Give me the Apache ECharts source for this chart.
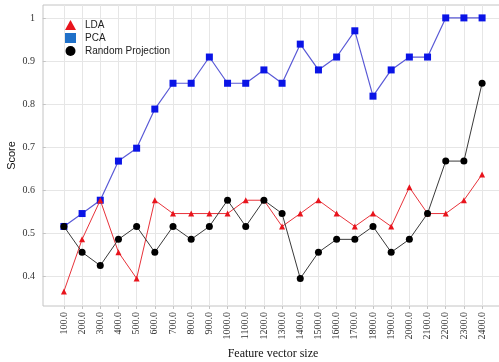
<!DOCTYPE html>
<html>
<head>
<meta charset="utf-8">
<script src="https://cdn.jsdelivr.net/npm/echarts@6/dist/echarts.min.js"></script>
<style>
  html, body { margin: 0; padding: 0; background: #fff; }
  #chart { width: 499px; height: 362px; }
</style>
</head>
<body>
<div id="chart"></div>
<script>
// Feature vector sizes (x) and classification scores for each reduction method
const featureSizes = [100, 200, 300, 400, 500, 600, 700, 800, 900, 1000, 1100, 1200,
                      1300, 1400, 1500, 1600, 1700, 1800, 1900, 2000, 2100, 2200, 2300, 2400];

const ldaScores = [0.364, 0.485, 0.576, 0.455, 0.394, 0.576, 0.545, 0.545, 0.545, 0.545, 0.576, 0.576,
                   0.515, 0.545, 0.576, 0.545, 0.515, 0.545, 0.515, 0.606, 0.545, 0.545, 0.576, 0.636];

const pcaScores = [0.515, 0.545, 0.576, 0.667, 0.697, 0.788, 0.848, 0.848, 0.909, 0.848, 0.848, 0.879,
                   0.848, 0.939, 0.879, 0.909, 0.970, 0.818, 0.879, 0.909, 0.909, 1.0, 1.0, 1.0];

const rpScores = [0.515, 0.455, 0.424, 0.485, 0.515, 0.455, 0.515, 0.485, 0.515, 0.576, 0.515, 0.576,
                  0.545, 0.394, 0.455, 0.485, 0.485, 0.515, 0.455, 0.485, 0.545, 0.667, 0.667, 0.848];

const yTicks = [0.4, 0.5, 0.6, 0.7, 0.8, 0.9, 1.0];

const pairs = ys => featureSizes.map((x, i) => [x, ys[i]]);

const textFont = 'Liberation Sans';
const gridColor = '#e6e6e6';

const chart = echarts.init(document.getElementById('chart'), null, { renderer: 'canvas' });

chart.setOption({
  animation: false,
  backgroundColor: '#ffffff',
  grid: {
    show: true,
    left: 43, top: 5, width: 460, height: 301,
    outerBoundsMode: 'none',
    containLabel: false,
    borderColor: '#c4c4c4', borderWidth: 1,
    backgroundColor: 'transparent'
  },
  legend: {
    show: true,
    left: 60, top: 15,
    orient: 'vertical',
    itemGap: 3,
    itemWidth: 11, itemHeight: 10,
    textStyle: { fontFamily: textFont, fontSize: 10, color: '#222', padding: [0, 0, 0, 4] },
    data: [
      { name: 'LDA', icon: 'triangle', itemStyle: { color: '#e8141c' } },
      { name: 'PCA', icon: 'rect', itemStyle: { color: '#1f70c8' } },
      { name: 'Random Projection', icon: 'circle', itemStyle: { color: '#000' } }
    ]
  },
  xAxis: {
    type: 'value',
    min: -15, max: 2515,
    name: 'Feature vector size',
    nameLocation: 'middle',
    nameGap: 42,
    nameMoveOverlap: false,
    nameTextStyle: { fontFamily: 'Liberation Serif', fontSize: 12, color: '#111' },
    axisLine: { show: false },
    axisTick: { show: true, length: 3, lineStyle: { color: '#c4c4c4' }, customValues: featureSizes },
    axisLabel: {
      customValues: featureSizes,
      rotate: 90,
      margin: 6,
      fontFamily: 'Liberation Serif',
      fontSize: 10,
      color: '#333',
      formatter: v => v.toFixed(1)
    },
    splitLine: { show: true, lineStyle: { color: gridColor, width: 1 } }
  },
  yAxis: {
    type: 'value',
    min: 0.33, max: 1.03,
    name: 'Score',
    nameLocation: 'middle',
    nameGap: 26,
    nameMoveOverlap: false,
    nameRotate: 90,
    nameTextStyle: { fontFamily: textFont, fontSize: 11, color: '#111' },
    axisLine: { show: false },
    axisTick: { show: true, length: 3, lineStyle: { color: '#c4c4c4' }, customValues: yTicks },
    axisLabel: {
      customValues: yTicks,
      margin: 8,
      fontFamily: 'Liberation Serif',
      fontSize: 10,
      color: '#333',
      formatter: v => (Math.abs(v - 1) < 1e-9 ? '1' : v.toFixed(1))
    },
    splitLine: { show: true, lineStyle: { color: gridColor, width: 1 } }
  },
  series: [
    {
      name: 'LDA',
      type: 'line',
      data: pairs(ldaScores),
      symbol: 'triangle',
      symbolSize: 6,
      itemStyle: { color: '#e8141c' },
      lineStyle: { color: '#e8323a', width: 1 },
      z: 3
    },
    {
      name: 'PCA',
      type: 'line',
      data: pairs(pcaScores),
      symbol: 'rect',
      symbolSize: 7,
      itemStyle: { color: '#0a14e6' },
      lineStyle: { color: '#5a5ad6', width: 1.2 },
      z: 2
    },
    {
      name: 'Random Projection',
      type: 'line',
      data: pairs(rpScores),
      symbol: 'circle',
      symbolSize: 7,
      itemStyle: { color: '#000' },
      lineStyle: { color: '#3a3a3a', width: 1 },
      z: 4
    }
  ]
});
</script>
</body>
</html>
